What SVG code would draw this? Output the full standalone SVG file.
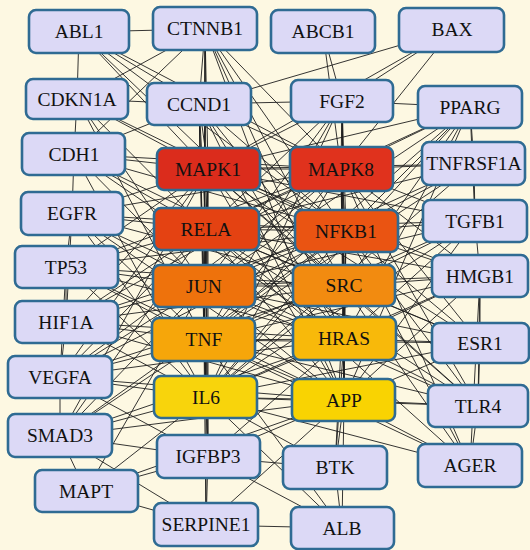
<svg xmlns="http://www.w3.org/2000/svg" width="530" height="550" viewBox="0 0 530 550" font-family="'Liberation Serif', serif">
<style>
.e path{stroke:#1e1e1e;stroke-width:0.9;fill:none}
.n rect{stroke:#2f6b93;stroke-width:2.6}
.p rect{fill:#dcd9f6}
.n text{font-family:'Liberation Serif','Times New Roman',serif;font-size:19.5px;fill:#111;text-anchor:middle}
</style>
<rect width="530" height="550" fill="#fdf8e2"/>
<g id="connectors" class="e">
<path d="M208 169L341 169"/><path d="M208 169L206 229"/><path d="M208 169L346 231"/><path d="M208 169L204 286"/><path d="M208 169L344 286"/><path d="M208 169L204 340"/><path d="M208 169L344 339"/><path d="M208 169L206 397"/><path d="M208 169L344 400"/>
<path d="M341 169L206 229"/><path d="M341 169L346 231"/><path d="M341 169L204 286"/><path d="M341 169L344 286"/><path d="M341 169L204 340"/><path d="M341 169L344 339"/><path d="M341 169L206 397"/><path d="M341 169L344 400"/>
<path d="M206 229L346 231"/><path d="M206 229L204 286"/><path d="M206 229L344 286"/><path d="M206 229L204 340"/><path d="M206 229L344 339"/><path d="M206 229L206 397"/><path d="M206 229L344 400"/>
<path d="M346 231L204 286"/><path d="M346 231L344 286"/><path d="M346 231L204 340"/><path d="M346 231L344 339"/><path d="M346 231L206 397"/><path d="M346 231L344 400"/>
<path d="M204 286L344 286"/><path d="M204 286L204 340"/><path d="M204 286L344 339"/><path d="M204 286L206 397"/><path d="M204 286L344 400"/>
<path d="M344 286L204 340"/><path d="M344 286L344 339"/><path d="M344 286L206 397"/><path d="M344 286L344 400"/>
<path d="M204 340L344 339"/><path d="M204 340L206 397"/><path d="M204 340L344 400"/>
<path d="M344 339L206 397"/><path d="M344 339L344 400"/><path d="M206 397L344 400"/>
<path d="M208 169L79 32"/><path d="M208 169L205 29"/><path d="M208 169L77 99"/><path d="M208 169L199 104"/><path d="M208 169L342 101"/><path d="M208 169L470 107"/><path d="M208 169L74 154"/><path d="M208 169L474 164"/><path d="M208 169L72 214"/><path d="M208 169L475 221"/><path d="M208 169L66 267"/><path d="M208 169L480 276"/><path d="M208 169L66 322"/><path d="M208 169L480 343"/><path d="M208 169L60 377"/><path d="M208 169L478 406"/><path d="M208 169L60 436"/><path d="M208 169L208 457"/><path d="M208 169L452 30"/>
<path d="M341 169L79 32"/><path d="M341 169L205 29"/><path d="M341 169L323 32"/><path d="M341 169L452 30"/><path d="M341 169L199 104"/><path d="M341 169L342 101"/><path d="M341 169L470 107"/><path d="M341 169L74 154"/><path d="M341 169L474 164"/><path d="M341 169L72 214"/><path d="M341 169L475 221"/><path d="M341 169L66 267"/><path d="M341 169L480 276"/><path d="M341 169L66 322"/><path d="M341 169L480 343"/><path d="M341 169L60 377"/><path d="M341 169L478 406"/><path d="M341 169L470 466"/>
<path d="M206 229L205 29"/><path d="M206 229L77 99"/><path d="M206 229L199 104"/><path d="M206 229L342 101"/><path d="M206 229L470 107"/><path d="M206 229L74 154"/><path d="M206 229L474 164"/><path d="M206 229L72 214"/><path d="M206 229L475 221"/><path d="M206 229L66 267"/><path d="M206 229L480 276"/><path d="M206 229L66 322"/><path d="M206 229L480 343"/><path d="M206 229L60 377"/><path d="M206 229L478 406"/><path d="M206 229L60 436"/><path d="M206 229L470 466"/><path d="M206 229L208 457"/>
<path d="M346 231L79 32"/><path d="M346 231L205 29"/><path d="M346 231L77 99"/><path d="M346 231L199 104"/><path d="M346 231L342 101"/><path d="M346 231L470 107"/><path d="M346 231L74 154"/><path d="M346 231L474 164"/><path d="M346 231L72 214"/><path d="M346 231L475 221"/><path d="M346 231L66 267"/><path d="M346 231L480 276"/><path d="M346 231L66 322"/><path d="M346 231L480 343"/><path d="M346 231L60 377"/><path d="M346 231L478 406"/><path d="M346 231L470 466"/><path d="M346 231L60 436"/>
<path d="M204 286L205 29"/><path d="M204 286L77 99"/><path d="M204 286L199 104"/><path d="M204 286L342 101"/><path d="M204 286L470 107"/><path d="M204 286L74 154"/><path d="M204 286L474 164"/><path d="M204 286L72 214"/><path d="M204 286L475 221"/><path d="M204 286L66 267"/><path d="M204 286L480 276"/><path d="M204 286L66 322"/><path d="M204 286L480 343"/><path d="M204 286L60 377"/><path d="M204 286L478 406"/><path d="M204 286L60 436"/><path d="M204 286L86 491"/>
<path d="M344 286L79 32"/><path d="M344 286L205 29"/><path d="M344 286L199 104"/><path d="M344 286L342 101"/><path d="M344 286L470 107"/><path d="M344 286L74 154"/><path d="M344 286L72 214"/><path d="M344 286L475 221"/><path d="M344 286L66 267"/><path d="M344 286L480 276"/><path d="M344 286L66 322"/><path d="M344 286L480 343"/><path d="M344 286L60 377"/><path d="M344 286L478 406"/><path d="M344 286L335 468"/><path d="M344 286L470 466"/>
<path d="M204 340L205 29"/><path d="M204 340L77 99"/><path d="M204 340L199 104"/><path d="M204 340L342 101"/><path d="M204 340L470 107"/><path d="M204 340L474 164"/><path d="M204 340L72 214"/><path d="M204 340L475 221"/><path d="M204 340L66 267"/><path d="M204 340L480 276"/><path d="M204 340L66 322"/><path d="M204 340L480 343"/><path d="M204 340L60 377"/><path d="M204 340L478 406"/><path d="M204 340L60 436"/><path d="M204 340L470 466"/><path d="M204 340L208 457"/><path d="M204 340L206 525"/><path d="M204 340L342 528"/>
<path d="M344 339L205 29"/><path d="M344 339L199 104"/><path d="M344 339L342 101"/><path d="M344 339L470 107"/><path d="M344 339L74 154"/><path d="M344 339L72 214"/><path d="M344 339L475 221"/><path d="M344 339L66 267"/><path d="M344 339L480 276"/><path d="M344 339L66 322"/><path d="M344 339L480 343"/><path d="M344 339L60 377"/><path d="M344 339L478 406"/><path d="M344 339L60 436"/><path d="M344 339L335 468"/><path d="M344 339L208 457"/>
<path d="M206 397L199 104"/><path d="M206 397L342 101"/><path d="M206 397L470 107"/><path d="M206 397L74 154"/><path d="M206 397L474 164"/><path d="M206 397L72 214"/><path d="M206 397L475 221"/><path d="M206 397L66 267"/><path d="M206 397L480 276"/><path d="M206 397L66 322"/><path d="M206 397L480 343"/><path d="M206 397L60 377"/><path d="M206 397L478 406"/><path d="M206 397L60 436"/><path d="M206 397L470 466"/><path d="M206 397L208 457"/><path d="M206 397L206 525"/><path d="M206 397L86 491"/><path d="M206 397L342 528"/><path d="M206 397L335 468"/>
<path d="M344 400L205 29"/><path d="M344 400L199 104"/><path d="M344 400L342 101"/><path d="M344 400L470 107"/><path d="M344 400L72 214"/><path d="M344 400L475 221"/><path d="M344 400L66 267"/><path d="M344 400L480 276"/><path d="M344 400L66 322"/><path d="M344 400L480 343"/><path d="M344 400L60 377"/><path d="M344 400L478 406"/><path d="M344 400L60 436"/><path d="M344 400L470 466"/><path d="M344 400L208 457"/><path d="M344 400L335 468"/><path d="M344 400L342 528"/><path d="M344 400L206 525"/><path d="M344 400L86 491"/>
<path d="M79 32L205 29"/><path d="M79 32L77 99"/><path d="M79 32L199 104"/><path d="M205 29L199 104"/><path d="M205 29L77 99"/><path d="M205 29L74 154"/><path d="M323 32L342 101"/><path d="M452 30L342 101"/><path d="M452 30L199 104"/><path d="M77 99L199 104"/><path d="M77 99L74 154"/><path d="M74 154L72 214"/><path d="M74 154L199 104"/><path d="M72 214L66 267"/><path d="M66 267L66 322"/><path d="M66 322L60 377"/><path d="M60 377L60 436"/><path d="M60 436L86 491"/><path d="M60 436L208 457"/><path d="M60 436L206 525"/><path d="M86 491L208 457"/><path d="M86 491L206 525"/><path d="M208 457L206 525"/><path d="M208 457L342 528"/><path d="M208 457L335 468"/><path d="M206 525L342 528"/><path d="M335 468L342 528"/><path d="M474 164L475 221"/><path d="M474 164L470 107"/><path d="M480 276L480 343"/><path d="M480 343L478 406"/><path d="M478 406L470 466"/><path d="M480 276L478 406"/><path d="M480 276L470 466"/><path d="M475 221L480 276"/><path d="M470 107L475 221"/><path d="M342 101L470 107"/><path d="M199 104L342 101"/><path d="M72 214L66 322"/><path d="M66 267L60 377"/><path d="M60 377L208 457"/>
</g>
<g id="ABL1" class="n p"><rect x="29" y="10" width="100" height="43" rx="7"/><text x="79" y="38">ABL1</text></g>
<g id="CTNNB1" class="n p"><rect x="153" y="7" width="104" height="43" rx="7"/><text x="205" y="35">CTNNB1</text></g>
<g id="ABCB1" class="n p"><rect x="271" y="10" width="104" height="43" rx="7"/><text x="323" y="38">ABCB1</text></g>
<g id="BAX" class="n p"><rect x="399" y="8" width="105" height="44" rx="7"/><text x="452" y="36">BAX</text></g>
<g id="CDKN1A" class="n p"><rect x="26" y="79" width="102" height="40" rx="7"/><text x="77" y="106">CDKN1A</text></g>
<g id="CCND1" class="n p"><rect x="147" y="83" width="104" height="42" rx="7"/><text x="199" y="111">CCND1</text></g>
<g id="FGF2" class="n p"><rect x="291" y="80" width="102" height="42" rx="7"/><text x="342" y="108">FGF2</text></g>
<g id="PPARG" class="n p"><rect x="418" y="86" width="104" height="42" rx="7"/><text x="470" y="114">PPARG</text></g>
<g id="CDH1" class="n p"><rect x="22" y="133" width="103" height="42" rx="7"/><text x="74" y="161">CDH1</text></g>
<g id="MAPK1" class="n"><rect x="157" y="148" width="103" height="42" rx="7" fill="#db2c1c"/><text x="208" y="176">MAPK1</text></g>
<g id="MAPK8" class="n"><rect x="290" y="147" width="103" height="44" rx="7" fill="#e0321d"/><text x="341" y="176">MAPK8</text></g>
<g id="TNFRSF1A" class="n p"><rect x="422" y="142" width="103" height="43" rx="7"/><text x="474" y="170">TNFRSF1A</text></g>
<g id="EGFR" class="n p"><rect x="21" y="192" width="102" height="43" rx="7"/><text x="72" y="220">EGFR</text></g>
<g id="RELA" class="n"><rect x="154" y="208" width="105" height="42" rx="7" fill="#e44212"/><text x="206" y="236">RELA</text></g>
<g id="NFKB1" class="n"><rect x="295" y="210" width="103" height="42" rx="7" fill="#ea5412"/><text x="346" y="238">NFKB1</text></g>
<g id="TGFB1" class="n p"><rect x="423" y="200" width="104" height="42" rx="7"/><text x="475" y="228">TGFB1</text></g>
<g id="TP53" class="n p"><rect x="15" y="246" width="103" height="42" rx="7"/><text x="66" y="274">TP53</text></g>
<g id="JUN" class="n"><rect x="153" y="265" width="102" height="42" rx="7" fill="#ee720c"/><text x="204" y="293">JUN</text></g>
<g id="SRC" class="n"><rect x="293" y="265" width="102" height="41" rx="7" fill="#f28b10"/><text x="344" y="292">SRC</text></g>
<g id="HMGB1" class="n p"><rect x="432" y="255" width="96" height="42" rx="7"/><text x="480" y="283">HMGB1</text></g>
<g id="HIF1A" class="n p"><rect x="15" y="301" width="103" height="42" rx="7"/><text x="66" y="329">HIF1A</text></g>
<g id="TNF" class="n"><rect x="152" y="318" width="103" height="43" rx="7" fill="#f6a60a"/><text x="204" y="346">TNF</text></g>
<g id="HRAS" class="n"><rect x="293" y="317" width="103" height="43" rx="7" fill="#f8b90a"/><text x="344" y="345">HRAS</text></g>
<g id="ESR1" class="n p"><rect x="432" y="323" width="97" height="40" rx="7"/><text x="480" y="350">ESR1</text></g>
<g id="VEGFA" class="n p"><rect x="8" y="356" width="104" height="42" rx="7"/><text x="60" y="384">VEGFA</text></g>
<g id="IL6" class="n"><rect x="154" y="376" width="103" height="42" rx="7" fill="#f8d40c"/><text x="206" y="404">IL6</text></g>
<g id="APP" class="n"><rect x="292" y="379" width="103" height="42" rx="7" fill="#f9d302"/><text x="344" y="407">APP</text></g>
<g id="TLR4" class="n p"><rect x="428" y="385" width="100" height="42" rx="7"/><text x="478" y="413">TLR4</text></g>
<g id="SMAD3" class="n p"><rect x="8" y="414" width="104" height="43" rx="7"/><text x="60" y="442">SMAD3</text></g>
<g id="IGFBP3" class="n p"><rect x="157" y="435" width="103" height="43" rx="7"/><text x="208" y="463">IGFBP3</text></g>
<g id="BTK" class="n p"><rect x="283" y="446" width="104" height="43" rx="7"/><text x="335" y="474">BTK</text></g>
<g id="AGER" class="n p"><rect x="418" y="444" width="104" height="43" rx="7"/><text x="470" y="472">AGER</text></g>
<g id="MAPT" class="n p"><rect x="35" y="470" width="103" height="42" rx="7"/><text x="86" y="498">MAPT</text></g>
<g id="SERPINE1" class="n p"><rect x="154" y="503" width="104" height="43" rx="7"/><text x="206" y="531">SERPINE1</text></g>
<g id="ALB" class="n p"><rect x="291" y="507" width="103" height="42" rx="7"/><text x="342" y="535">ALB</text></g>
</svg>
